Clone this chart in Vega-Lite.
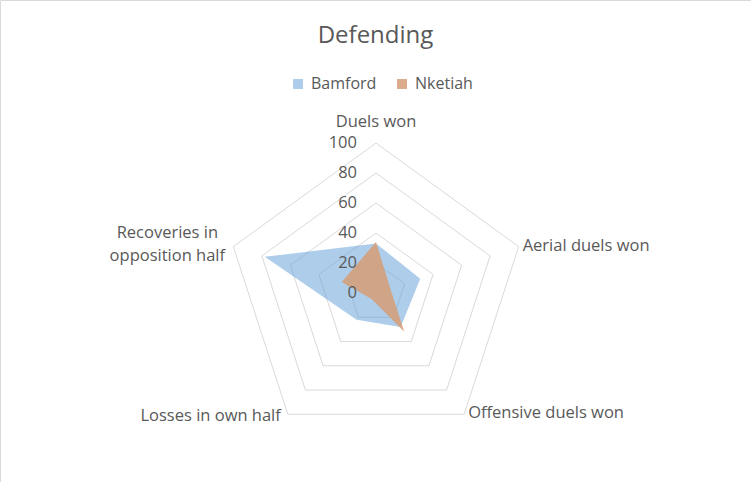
{
  "$schema": "https://vega.github.io/schema/vega-lite/v6.json",
  "width": 751,
  "height": 482,
  "autosize": "none",
  "padding": 0,
  "background": "white",
  "config": {
    "view": {"stroke": "#D9D9D9", "strokeWidth": 1},
    "font": "Open Sans"
  },
  "title": {
    "text": "Defending",
    "fontSize": 24,
    "font": "Open Sans",
    "fontWeight": "normal",
    "color": "#595959",
    "anchor": "middle",
    "frame": "group",
    "offset": -67,
    "baseline": "alphabetic"
  },
  "datasets": {
    "players": [
      {"player": "Bamford", "category": "Duels won", "idx": 0, "value": 33},
      {"player": "Bamford", "category": "Aerial duels won", "idx": 1, "value": 31},
      {"player": "Bamford", "category": "Offensive duels won", "idx": 2, "value": 28},
      {"player": "Bamford", "category": "Losses in own half", "idx": 3, "value": 22},
      {"player": "Bamford", "category": "Recoveries in opposition half", "idx": 4, "value": 78},
      {"player": "Nketiah", "category": "Duels won", "idx": 0, "value": 34},
      {"player": "Nketiah", "category": "Aerial duels won", "idx": 1, "value": 10},
      {"player": "Nketiah", "category": "Offensive duels won", "idx": 2, "value": 32},
      {"player": "Nketiah", "category": "Losses in own half", "idx": 3, "value": 5},
      {"player": "Nketiah", "category": "Recoveries in opposition half", "idx": 4, "value": 24}
    ],
    "rings": [
      {"level": 20, "idx": 0}, {"level": 20, "idx": 1}, {"level": 20, "idx": 2}, {"level": 20, "idx": 3}, {"level": 20, "idx": 4}, {"level": 20, "idx": 5},
      {"level": 40, "idx": 0}, {"level": 40, "idx": 1}, {"level": 40, "idx": 2}, {"level": 40, "idx": 3}, {"level": 40, "idx": 4}, {"level": 40, "idx": 5},
      {"level": 60, "idx": 0}, {"level": 60, "idx": 1}, {"level": 60, "idx": 2}, {"level": 60, "idx": 3}, {"level": 60, "idx": 4}, {"level": 60, "idx": 5},
      {"level": 80, "idx": 0}, {"level": 80, "idx": 1}, {"level": 80, "idx": 2}, {"level": 80, "idx": 3}, {"level": 80, "idx": 4}, {"level": 80, "idx": 5},
      {"level": 100, "idx": 0}, {"level": 100, "idx": 1}, {"level": 100, "idx": 2}, {"level": 100, "idx": 3}, {"level": 100, "idx": 4}, {"level": 100, "idx": 5}
    ],
    "levels": [
      {"level": 0}, {"level": 20}, {"level": 40}, {"level": 60}, {"level": 80}, {"level": 100}
    ],
    "cats": [
      {"category": "Duels won", "idx": 0},
      {"category": "Aerial duels won", "idx": 1},
      {"category": "Offensive duels won", "idx": 2},
      {"category": "Losses in own half", "idx": 3},
      {"category": "Recoveries in opposition half", "idx": 4}
    ]
  },
  "layer": [
    {
      "data": {"name": "rings"},
      "transform": [
        {"calculate": "datum.level * sin(2 * PI * datum.idx / 5)", "as": "px"},
        {"calculate": "datum.level * cos(2 * PI * datum.idx / 5)", "as": "py"}
      ],
      "mark": {"type": "line", "stroke": "#D9D9D9", "strokeWidth": 1},
      "encoding": {
        "x": {"field": "px", "type": "quantitative", "scale": {"domain": [-250.667, 250], "nice": false, "zero": false}, "axis": null},
        "y": {"field": "py", "type": "quantitative", "scale": {"domain": [-126, 195.333], "nice": false, "zero": false}, "axis": null},
        "detail": {"field": "level", "type": "nominal"},
        "order": {"field": "idx", "type": "quantitative"}
      }
    },
    {
      "data": {"name": "players"},
      "transform": [
        {"calculate": "datum.value * sin(2 * PI * datum.idx / 5)", "as": "px"},
        {"calculate": "datum.value * cos(2 * PI * datum.idx / 5)", "as": "py"}
      ],
      "mark": {"type": "line", "filled": true, "strokeWidth": 0},
      "encoding": {
        "x": {"field": "px", "type": "quantitative", "scale": {"domain": [-250.667, 250], "nice": false, "zero": false}, "axis": null},
        "y": {"field": "py", "type": "quantitative", "scale": {"domain": [-126, 195.333], "nice": false, "zero": false}, "axis": null},
        "order": {"field": "idx", "type": "quantitative"},
        "color": {
          "field": "player",
          "type": "nominal",
          "scale": {"domain": ["Bamford", "Nketiah"], "range": ["rgba(91,155,213,0.5)", "rgba(214,158,118,0.85)"]},
          "legend": {
            "orient": "none",
            "legendX": 290,
            "legendY": 76,
            "direction": "horizontal",
            "title": null,
            "symbolType": "square",
            "symbolSize": 100,
            "symbolStrokeWidth": 0,
            "labelFontSize": 16,
            "labelFont": "Open Sans",
            "labelColor": "#595959",
            "labelOffset": 5,
            "columnPadding": 17
          }
        }
      }
    },
    {
      "data": {"name": "levels"},
      "mark": {"type": "text", "align": "right", "baseline": "middle", "dx": -19, "fontSize": 16.5, "font": "Open Sans", "color": "#595959"},
      "encoding": {
        "x": {"datum": 0, "type": "quantitative", "scale": {"domain": [-250.667, 250], "nice": false, "zero": false}, "axis": null},
        "y": {"field": "level", "type": "quantitative", "scale": {"domain": [-126, 195.333], "nice": false, "zero": false}, "axis": null},
        "text": {"field": "level", "type": "quantitative"}
      }
    },
    {
      "data": {"name": "cats"},
      "transform": [
        {"filter": "datum.idx == 0"},
        {"calculate": "100 * sin(2 * PI * datum.idx / 5)", "as": "px"},
        {"calculate": "100 * cos(2 * PI * datum.idx / 5)", "as": "py"}
      ],
      "mark": {"type": "text", "align": "center", "baseline": "middle", "dy": -21, "fontSize": 16.5, "font": "Open Sans", "color": "#595959"},
      "encoding": {
        "x": {"field": "px", "type": "quantitative", "scale": {"domain": [-250.667, 250], "nice": false, "zero": false}, "axis": null},
        "y": {"field": "py", "type": "quantitative", "scale": {"domain": [-126, 195.333], "nice": false, "zero": false}, "axis": null},
        "text": {"field": "category"}
      }
    },
    {
      "data": {"name": "cats"},
      "transform": [
        {"filter": "datum.idx == 1 || datum.idx == 2"},
        {"calculate": "100 * sin(2 * PI * datum.idx / 5)", "as": "px"},
        {"calculate": "100 * cos(2 * PI * datum.idx / 5)", "as": "py"}
      ],
      "mark": {"type": "text", "align": "left", "baseline": "middle", "dx": 4, "dy": -1, "fontSize": 16.5, "font": "Open Sans", "color": "#595959"},
      "encoding": {
        "x": {"field": "px", "type": "quantitative", "scale": {"domain": [-250.667, 250], "nice": false, "zero": false}, "axis": null},
        "y": {"field": "py", "type": "quantitative", "scale": {"domain": [-126, 195.333], "nice": false, "zero": false}, "axis": null},
        "text": {"field": "category"}
      }
    },
    {
      "data": {"name": "cats"},
      "transform": [
        {"filter": "datum.idx == 3"},
        {"calculate": "100 * sin(2 * PI * datum.idx / 5)", "as": "px"},
        {"calculate": "100 * cos(2 * PI * datum.idx / 5)", "as": "py"}
      ],
      "mark": {"type": "text", "align": "right", "baseline": "middle", "dx": -7, "dy": 2, "fontSize": 16.5, "font": "Open Sans", "color": "#595959"},
      "encoding": {
        "x": {"field": "px", "type": "quantitative", "scale": {"domain": [-250.667, 250], "nice": false, "zero": false}, "axis": null},
        "y": {"field": "py", "type": "quantitative", "scale": {"domain": [-126, 195.333], "nice": false, "zero": false}, "axis": null},
        "text": {"field": "category"}
      }
    },
    {
      "data": {"name": "cats"},
      "transform": [
        {"filter": "datum.idx == 4"},
        {"calculate": "100 * sin(2 * PI * datum.idx / 5)", "as": "px"},
        {"calculate": "100 * cos(2 * PI * datum.idx / 5)", "as": "py"}
      ],
      "mark": {"type": "text", "align": "center", "baseline": "middle", "dx": -66, "dy": -14, "lineHeight": 23, "fontSize": 16.5, "font": "Open Sans", "color": "#595959"},
      "encoding": {
        "x": {"field": "px", "type": "quantitative", "scale": {"domain": [-250.667, 250], "nice": false, "zero": false}, "axis": null},
        "y": {"field": "py", "type": "quantitative", "scale": {"domain": [-126, 195.333], "nice": false, "zero": false}, "axis": null},
        "text": {"value": ["Recoveries in", "opposition half"]}
      }
    }
  ]
}
